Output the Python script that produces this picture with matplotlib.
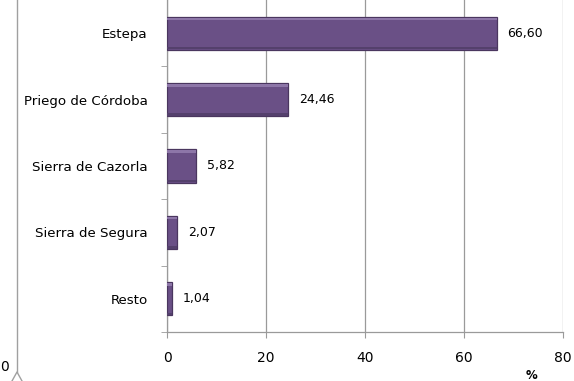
import matplotlib.pyplot as plt
from matplotlib.lines import Line2D

# share of production by zone (%)
zones = ["Estepa", "Priego de Córdoba", "Sierra de Cazorla", "Sierra de Segura", "Resto"]
shares = [66.60, 24.46, 5.82, 2.07, 1.04]
share_labels = ["66,60", "24,46", "5,82", "2,07", "1,04"]
x_ticks = [0, 20, 40, 60, 80]

bar_color = "#6a5086"
edge_color = "#4a365f"
grid_color = "#9a9a9a"

fig = plt.figure(figsize=(5.74, 3.81), dpi=100)
ax = fig.add_axes([167 / 574, 1 - 332 / 381, (563 - 167) / 574, 332 / 381])

pos = list(range(len(zones)))
ax.barh(pos, shares, height=0.5, color=bar_color, edgecolor=edge_color,
        linewidth=0.9, zorder=3)
# soft bevel along the top and bottom of each bar
ax.barh([p - 0.215 for p in pos], shares, height=0.04, color="#8d76a8",
        linewidth=0, zorder=4)
ax.barh([p + 0.225 for p in pos], shares, height=0.035, color="#54406c",
        linewidth=0, zorder=4)

for p, v, lab in zip(pos, shares, share_labels):
    ax.text(v + 2.2, p, lab, va="center", ha="left", fontsize=9, color="black")

ax.set_xlim(0, 80)
ax.set_ylim(len(zones) - 0.5, -0.5)
ax.set_xticks(x_ticks)
ax.set_xticklabels([str(t) for t in x_ticks], fontsize=10)
ax.xaxis.grid(True, color=grid_color, linewidth=0.9, zorder=0)
ax.set_axisbelow(True)

ax.set_yticks(pos)
ax.set_yticklabels(zones, fontsize=9.6)
ax.tick_params(axis="y", length=0, pad=14)
ax.set_yticks([p + 0.5 for p in pos], minor=True)
ax.tick_params(axis="y", which="minor", length=4, color=grid_color)
ax.tick_params(axis="x", length=4, color=grid_color, pad=10)

for side in ["top", "right"]:
    ax.spines[side].set_visible(False)
for side in ["left", "bottom"]:
    ax.spines[side].set_color(grid_color)
    ax.spines[side].set_linewidth(0.9)

ax.text((531 - 167) / 396, -0.13, "%", transform=ax.transAxes, fontsize=8.5,
        fontweight="bold", ha="center", va="center")

# pieces of the neighbouring chart at the left edge
fig.add_artist(Line2D([17 / 574, 17 / 574], [1, 1 - 372 / 381],
                      color="#a0a0a0", linewidth=1.0))
fig.add_artist(Line2D([12 / 574, 17 / 574, 22 / 574],
                      [1 - 381 / 381, 1 - 372 / 381, 1 - 381 / 381],
                      color="#a0a0a0", linewidth=1.0))
fig.text(0.0, 1 - 367 / 381, "0", fontsize=10, ha="left", va="center")

fig.savefig("out.png", dpi=100)
